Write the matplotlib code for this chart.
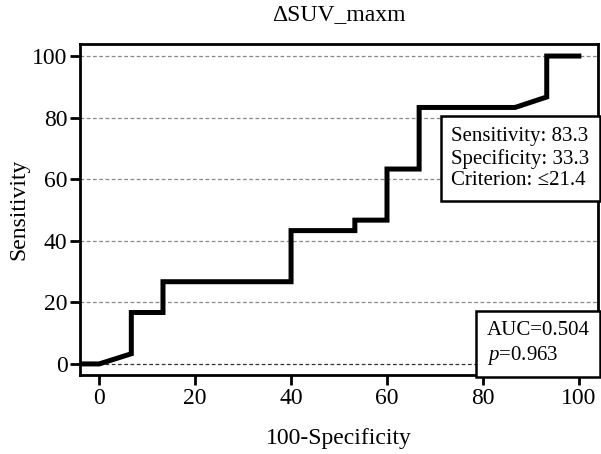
import numpy as np
import matplotlib.pyplot as plt
from matplotlib.offsetbox import AnchoredText

plt.rcParams['font.family'] = ['Liberation Serif', 'DejaVu Serif']
plt.rcParams['mathtext.fontset'] = 'custom'
plt.rcParams['mathtext.it'] = 'Liberation Serif:italic'
plt.rcParams['mathtext.rm'] = 'Liberation Serif'

# ROC curve points (100-Specificity, Sensitivity)
fpr = [-5, 0, 6.7, 6.7, 13.3, 13.3, 40, 40, 53.3, 53.3, 60, 60, 66.7, 66.7, 86.7, 93.3, 93.3, 100]
tpr = [0, 0, 3.3, 16.7, 16.7, 26.7, 26.7, 43.3, 43.3, 46.7, 46.7, 63.3, 63.3, 83.3, 83.3, 86.7, 100, 100]
xticks = [0, 20, 40, 60, 80, 100]
yticks = [0, 20, 40, 60, 80, 100]

fig = plt.figure(figsize=(6.01, 4.54), dpi=100)
ax = fig.add_axes([0.1331, 0.174, 0.862, 0.729])

for y in yticks:
    ax.axhline(y, color='#333333' if y == 0 else '#888888', lw=0.9,
               ls=(0, (3, 2)), zorder=0)

ax.plot(fpr, tpr, color='black', lw=3.6, solid_joinstyle='miter', zorder=3)

ax.set_xlim(-4, 104)
ax.set_ylim(-3.6, 103.9)
ax.set_xticks(xticks)
ax.set_yticks(yticks)
ax.tick_params(labelsize=17, width=2, length=7, direction='out', pad=2)
for s in ax.spines.values():
    s.set_linewidth(2)

ax.set_title('ΔSUV_maxm', fontsize=17, pad=17)
ax.set_xlabel('100-Specificity', fontsize=17, labelpad=14)
ax.set_ylabel('Sensitivity', fontsize=17, labelpad=2)

box1 = AnchoredText('Sensitivity: 83.3\nSpecificity: 33.3\nCriterion: ≤21.4',
                    loc='center right', bbox_to_anchor=(1.0, 0.654),
                    bbox_transform=ax.transAxes, borderpad=0, frameon=True,
                    prop=dict(size=15, linespacing=1.2))
box1.patch.set_linewidth(1.8)
box1.patch.set_boxstyle('square', pad=0.1)
ax.add_artist(box1)

box2 = AnchoredText('AUC=0.504\n$p$=0.963', loc='lower right', borderpad=0,
                    frameon=True, prop=dict(size=15, linespacing=1.2))
box2.patch.set_linewidth(1.8)
box2.patch.set_boxstyle('square', pad=0.1)
box2.zorder = 4
ax.add_artist(box2)

plt.savefig('out.png', dpi=100)
